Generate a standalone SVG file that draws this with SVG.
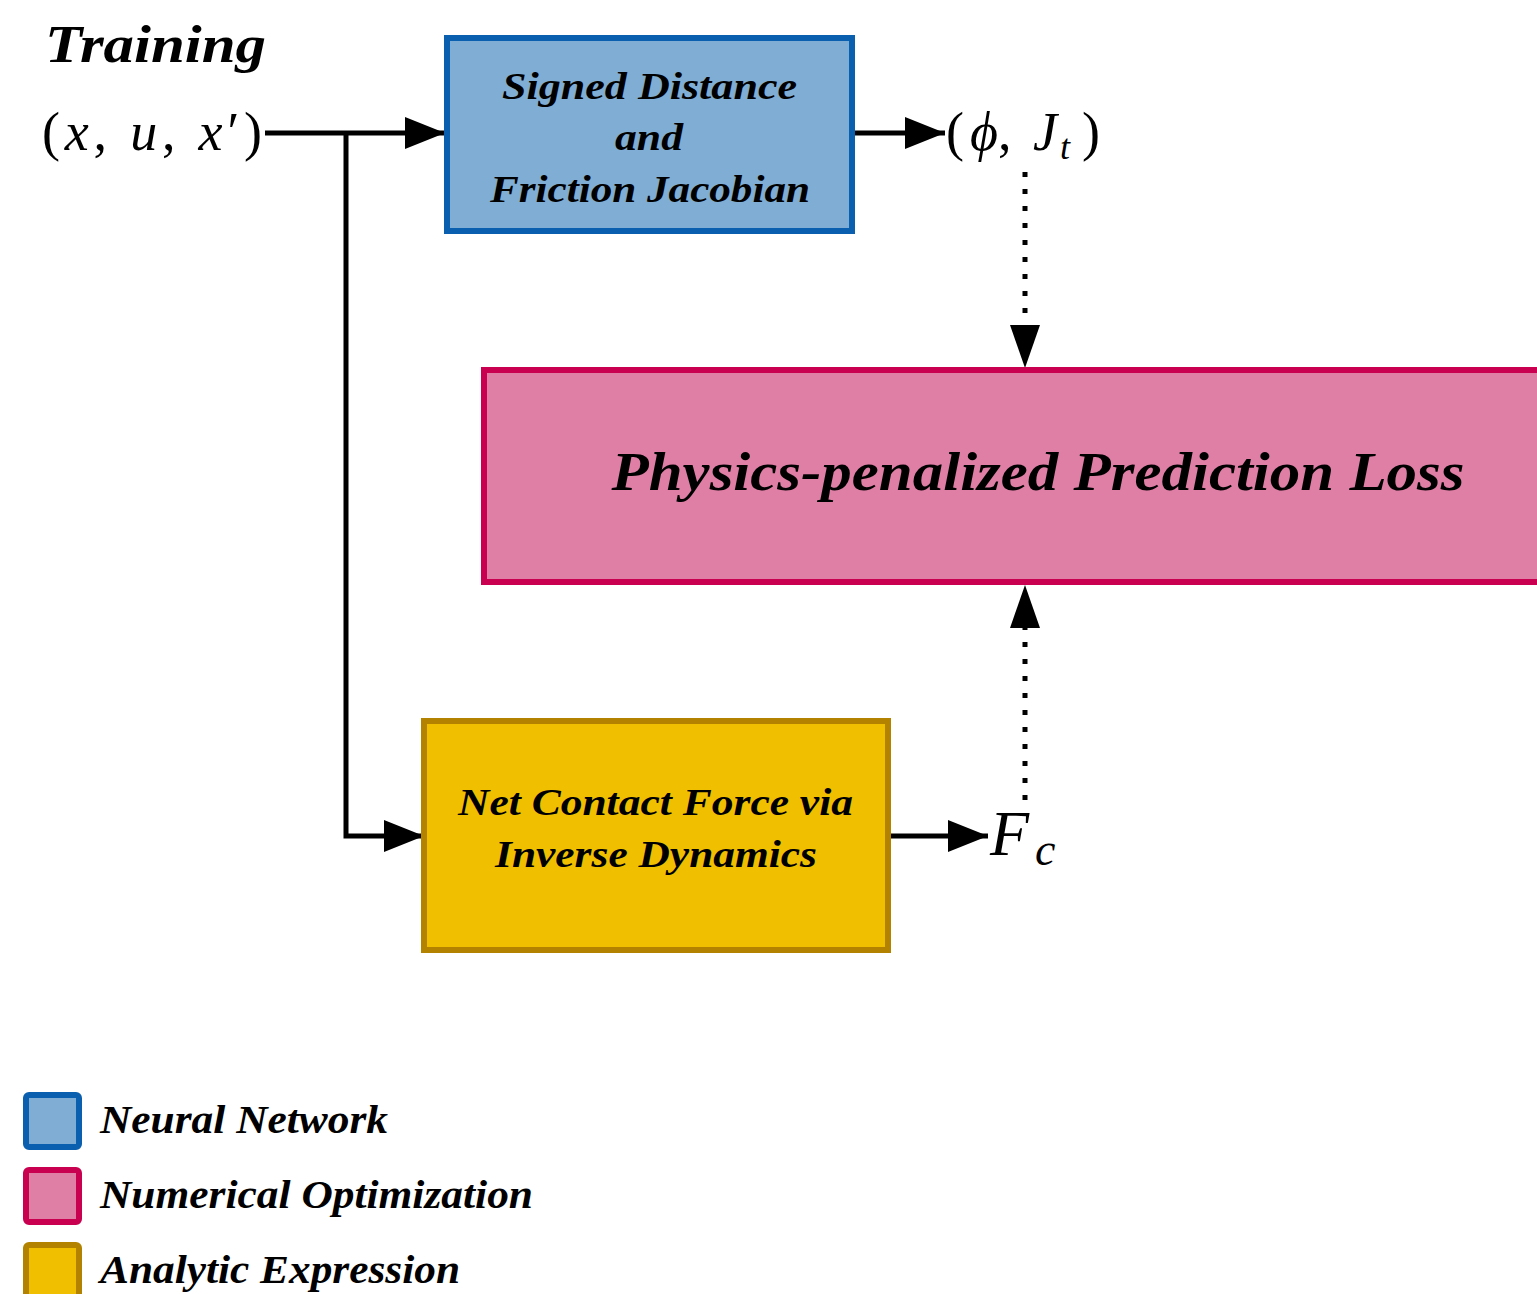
<svg xmlns="http://www.w3.org/2000/svg" width="1537" height="1294" viewBox="0 0 1537 1294">
<defs>
<style>
.lbl{font-family:"Liberation Serif","Times New Roman",serif;font-weight:bold;font-style:italic;fill:#000}
.math{font-family:"Liberation Serif","Times New Roman",serif;fill:#000}
.mi{font-style:italic}
.wire{fill:none;stroke:#000;stroke-width:5}
.dot{fill:none;stroke:#000;stroke-width:5;stroke-dasharray:5 12}
.nn{fill:#7fadd4;stroke:#0a60ae;stroke-width:6}
.opt{fill:#e07fa6;stroke:#c8004f;stroke-width:6}
.ana{fill:#f0bf00;stroke:#b38300;stroke-width:6}
</style>
<marker id="ah" viewBox="0 0 40 32" refX="40" refY="16" markerWidth="40" markerHeight="32" markerUnits="userSpaceOnUse" orient="auto">
<path d="M0,0 L40,16 L0,32 z" fill="#000"/>
</marker>
</defs>
<rect width="1537" height="1294" fill="#fff"/>

<g id="title">
<text class="lbl" x="45" y="62" font-size="52" textLength="221" lengthAdjust="spacingAndGlyphs">Training</text>
</g>
<g id="input">
<text class="math" x="42" y="150" font-size="54" textLength="220" lengthAdjust="spacing">(<tspan class="mi">x</tspan>, <tspan class="mi">u</tspan>, <tspan class="mi">x</tspan>′)</text>
</g>

<g id="connectors">
<path class="wire" d="M265,133 H445" marker-end="url(#ah)"/>
<path class="wire" d="M346,133 V836 H424" marker-end="url(#ah)"/>
<path class="wire" d="M852,133 H945" marker-end="url(#ah)"/>
<path class="wire" d="M888,836 H988" marker-end="url(#ah)"/>
<path class="dot" d="M1025,172 V330"/>
<path d="M1010,325 L1040,325 L1025,368 z" fill="#000"/>
<path class="dot" d="M1025,800 V628"/>
<path d="M1010,628 L1040,628 L1025,585 z" fill="#000"/>
</g>

<g id="node-sdf">
<rect class="nn" x="447" y="38" width="405" height="193"/>
<text class="lbl" x="649.5" y="99" font-size="38" text-anchor="middle" textLength="295" lengthAdjust="spacingAndGlyphs">Signed Distance</text>
<text class="lbl" x="649" y="150" font-size="38" text-anchor="middle" textLength="68" lengthAdjust="spacingAndGlyphs">and</text>
<text class="lbl" x="650" y="202" font-size="38" text-anchor="middle" textLength="320" lengthAdjust="spacingAndGlyphs">Friction Jacobian</text>
</g>

<g id="out-phi">
<text class="math" x="946" y="150" font-size="54">(<tspan class="mi" dx="6">ϕ</tspan>, <tspan class="mi" dx="8">J</tspan><tspan class="mi" font-size="36" dy="9" dx="3">t</tspan><tspan dy="-9" dx="12">)</tspan></text>
</g>

<g id="node-loss">
<rect class="opt" x="484" y="370" width="1060" height="212"/>
<text class="lbl" x="1038" y="490" font-size="54" text-anchor="middle" textLength="853" lengthAdjust="spacingAndGlyphs">Physics-penalized Prediction Loss</text>
</g>

<g id="node-invdyn">
<rect class="ana" x="424" y="721" width="464" height="229"/>
<text class="lbl" x="655.5" y="815" font-size="38" text-anchor="middle" textLength="395" lengthAdjust="spacingAndGlyphs">Net Contact Force via</text>
<text class="lbl" x="656" y="867" font-size="38" text-anchor="middle" textLength="322" lengthAdjust="spacingAndGlyphs">Inverse Dynamics</text>
</g>

<g id="out-fc">
<text class="math" x="990" y="855" font-size="64"><tspan class="mi">F</tspan><tspan class="mi" font-size="46" dy="10" dx="6">c</tspan></text>
</g>

<g id="legend">
<rect class="nn" x="26" y="1095" width="53" height="52" rx="3"/>
<text class="lbl" x="100" y="1133" font-size="40" textLength="288" lengthAdjust="spacingAndGlyphs">Neural Network</text>
<rect class="opt" x="26" y="1170" width="53" height="52" rx="3"/>
<text class="lbl" x="100" y="1208" font-size="40" textLength="433" lengthAdjust="spacingAndGlyphs">Numerical Optimization</text>
<rect class="ana" x="26" y="1245" width="53" height="52" rx="3"/>
<text class="lbl" x="100" y="1283" font-size="40" textLength="360" lengthAdjust="spacingAndGlyphs">Analytic Expression</text>
</g>
</svg>
